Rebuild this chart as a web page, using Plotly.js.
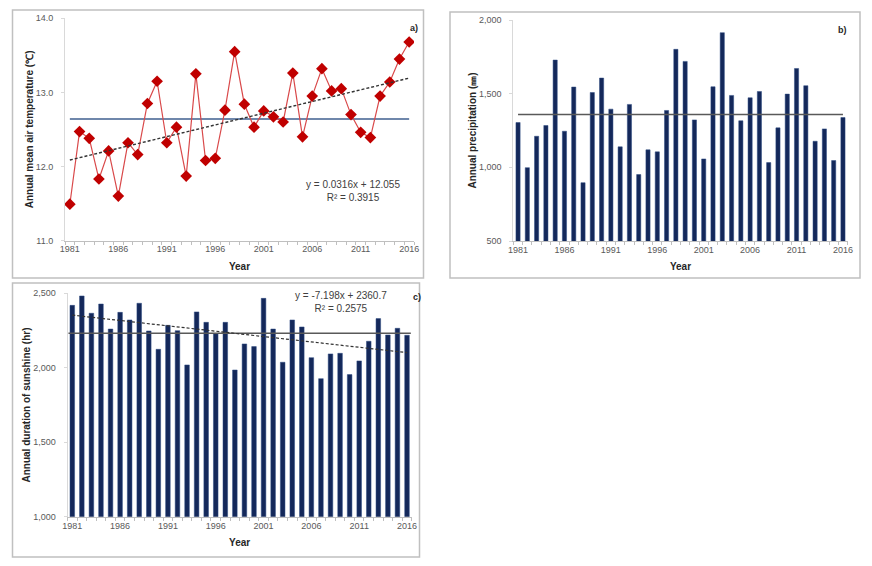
<!DOCTYPE html>
<html>
<head>
<meta charset="utf-8">
<script src="https://cdn.plot.ly/plotly-3.0.1.min.js"></script>
<style>html,body{margin:0;padding:0;background:#fff;}#chart{width:872px;height:566px;}</style>
</head>
<body>
<div id="chart"></div>
<script>
// ---- data ----
var years = [1981,1982,1983,1984,1985,1986,1987,1988,1989,1990,1991,1992,1993,1994,1995,1996,1997,1998,1999,2000,2001,2002,2003,2004,2005,2006,2007,2008,2009,2010,2011,2012,2013,2014,2015,2016];
var yearTicks = [1981,1986,1991,1996,2001,2006,2011,2016];

var temperature = [11.49,12.47,12.38,11.83,12.21,11.60,12.32,12.16,12.85,13.15,12.32,12.53,11.87,13.25,12.08,12.11,12.76,13.55,12.84,12.53,12.75,12.67,12.60,13.26,12.40,12.95,13.32,13.02,13.05,12.70,12.46,12.39,12.95,13.14,13.45,13.68];
var temperatureMean = 12.64;
var temperatureTrend = {slope: 0.0316, intercept: 12.055, r2: 0.3915};

var precipitation = [1304,998,1211,1284,1728,1245,1545,896,1508,1606,1395,1139,1427,951,1119,1105,1386,1801,1719,1322,1057,1547,1914,1488,1316,1472,1515,1032,1268,1497,1671,1554,1177,1261,1046,1338];
var precipitationMean = 1359;

var sunshine = [2419,2482,2366,2428,2260,2372,2321,2433,2247,2124,2285,2249,2019,2375,2305,2228,2305,1985,2160,2142,2466,2260,2037,2321,2274,2068,1927,2093,2097,1954,2046,2178,2330,2220,2265,2218];
var sunshineMean = 2231;
var sunshineTrend = {slope: -7.198, intercept: 2360.7, r2: 0.2575};

// trend lines from the chart's stated regression equations (x = 1..n)
function trendLine(t, n) {
  return [t.slope * 1 + t.intercept, t.slope * n + t.intercept];
}
var firstLast = [years[0], years[years.length - 1]];

// ---- styling ----
var W = 872, H = 566;
function px(x) { return x / W; }
function py(y) { return (H - y) / H; }
var FONT = 'Liberation Sans, Arial, sans-serif';
var tickFont = {family: FONT, size: 9, color: '#595959'};
var titleFont = {family: FONT, size: 10, color: '#262626', weight: 'bold'};
var eqFont = {family: FONT, size: 10, color: '#404040'};

function xAxis(domain, anchor) {
  return {
    domain: domain, anchor: anchor,
    range: [1980.5, 2016.5],
    tickmode: 'array', tickvals: yearTicks, ticktext: yearTicks.map(String),
    ticks: '', showgrid: false, zeroline: false,
    showline: true, linecolor: '#bfbfbf', linewidth: 1,
    tickfont: tickFont,
    minor: {tickmode: 'linear', tick0: 1980.5, dtick: 1, ticks: 'outside', ticklen: 3, tickcolor: '#bfbfbf', showgrid: false},
    title: {text: 'Year', font: titleFont, standoff: 9}
  };
}
function yAxis(domain, anchor, range, dtick, fmt, title) {
  return {
    domain: domain, anchor: anchor, range: range, dtick: dtick, tickformat: fmt,
    showgrid: false, zeroline: false, showline: true, linecolor: '#d9d9d9', linewidth: 1,
    ticks: 'outside', ticklen: 3, tickcolor: '#d9d9d9', ticklabelstandoff: 6,
    tickfont: tickFont,
    title: {text: title, font: titleFont, standoff: 0}
  };
}

var traces = [
  // panel a
  {x: firstLast, y: [temperatureMean, temperatureMean], xaxis: 'x', yaxis: 'y', mode: 'lines',
   line: {color: '#3f5f8f', width: 1.5}, hoverinfo: 'skip'},
  {x: years, y: temperature, xaxis: 'x', yaxis: 'y', mode: 'lines+markers',
   line: {color: '#d9494a', width: 1.2},
   marker: {symbol: 'diamond', size: 9, color: '#c00000'}},
  {x: firstLast, y: trendLine(temperatureTrend, years.length), xaxis: 'x', yaxis: 'y', mode: 'lines',
   line: {color: '#333333', width: 1.4, dash: '3px,2px'}},
  // panel b
  {x: years, y: precipitation, xaxis: 'x2', yaxis: 'y2', type: 'bar', width: 0.45,
   marker: {color: '#14285a', line: {color: '#2c4a80', width: 0.5}}},
  {x: firstLast, y: [precipitationMean, precipitationMean], xaxis: 'x2', yaxis: 'y2', mode: 'lines',
   line: {color: '#595959', width: 1.5}},
  // panel c
  {x: years, y: sunshine, xaxis: 'x3', yaxis: 'y3', type: 'bar', width: 0.48,
   marker: {color: '#14285a', line: {color: '#2c4a80', width: 0.5}}},
  {x: [1980.6, 2016.4], y: [sunshineMean, sunshineMean], xaxis: 'x3', yaxis: 'y3', mode: 'lines',
   line: {color: '#595959', width: 1.5}},
  {x: firstLast, y: trendLine(sunshineTrend, years.length), xaxis: 'x3', yaxis: 'y3', mode: 'lines',
   line: {color: '#333333', width: 1.2, dash: '3px,2px'}}
];

var layout = {
  width: W, height: H,
  margin: {l: 0, r: 0, t: 0, b: 0},
  paper_bgcolor: '#ffffff', plot_bgcolor: 'rgba(0,0,0,0)',
  showlegend: false, bargap: 0,
  font: {family: FONT},
  xaxis: xAxis([px(65), px(414)], 'y'),
  yaxis: yAxis([py(240.5), py(18.3)], 'x', [11, 14], 1, '.1f', 'Annual mean air temperature (℃)'),
  xaxis2: xAxis([px(513.4), px(847.6)], 'y2'),
  yaxis2: yAxis([py(241), py(20)], 'x2', [500, 2000], 500, ',d', 'Annual precipitation (㎜)'),
  xaxis3: xAxis([px(67.5), px(411.8)], 'y3'),
  yaxis3: yAxis([py(516.7), py(293.3)], 'x3', [1000, 2500], 500, ',d', 'Annual duration of sunshine (hr)'),
  shapes: [
    {type: 'rect', xref: 'paper', yref: 'paper', x0: px(12.5), x1: px(423.5), y0: py(278), y1: py(10), line: {color: '#c0c0c0', width: 1.5}},
    {type: 'rect', xref: 'paper', yref: 'paper', x0: px(450), x1: px(860), y0: py(278), y1: py(12), line: {color: '#c0c0c0', width: 1.5}},
    {type: 'rect', xref: 'paper', yref: 'paper', x0: px(12.5), x1: px(419.5), y0: py(557), y1: py(283), line: {color: '#c0c0c0', width: 1.5}}
  ],
  annotations: [
    {xref: 'paper', yref: 'paper', x: px(414), y: py(21), text: '<b>a)</b>', showarrow: false, font: {family: FONT, size: 9, color: '#262626'}},
    {xref: 'paper', yref: 'paper', x: px(849), y: py(23), text: '<b>b)</b>', showarrow: false, font: {family: FONT, size: 9, color: '#262626'}},
    {xref: 'paper', yref: 'paper', x: px(417), y: py(297), text: '<b>c)</b>', showarrow: false, font: {family: FONT, size: 9, color: '#262626'}},
    {xref: 'paper', yref: 'paper', x: px(353), y: py(191), align: 'center', showarrow: false, font: eqFont,
     text: 'y = ' + temperatureTrend.slope + 'x + ' + temperatureTrend.intercept + '<br>R² = ' + temperatureTrend.r2},
    {xref: 'paper', yref: 'paper', x: px(341), y: py(302), align: 'center', showarrow: false, font: eqFont,
     text: 'y = ' + sunshineTrend.slope + 'x + ' + sunshineTrend.intercept + '<br>R² = ' + sunshineTrend.r2}
  ]
};

Plotly.newPlot('chart', traces, layout, {displayModeBar: false, staticPlot: true});
</script>
</body>
</html>
